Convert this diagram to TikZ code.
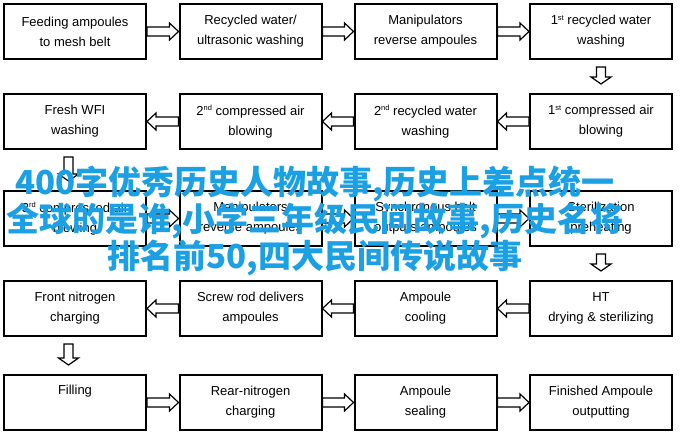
\documentclass[tikz,border=0pt]{standalone}
\usepackage{fontspec}
\setmainfont{Liberation Sans}
\newfontfamily\cjk{Noto Sans CJK SC}
\usetikzlibrary{calc}
\definecolor{overlaycyan}{RGB}{27,160,228}
\tikzset{
  stepbox/.style={draw=black, line width=2pt, minimum width=142pt, minimum height=55pt,
    inner sep=0pt, align=center, font=\fontsize{13}{20}\selectfont},
  blk/.style={draw=black, line width=1.2pt, fill=white, line join=miter},
  cjktext/.style={text=overlaycyan, align=center, inner sep=0pt,
    font=\cjk\bfseries\fontsize{33}{34}\selectfont}
}
\newcommand\ordsup[1]{\raisebox{4.5pt}{\fontsize{7.5}{7.5}\selectfont #1}}
% right arrow from #1 to #2
\newcommand\rarr[2]{\draw[blk] let \p1=(#1.east), \p2=(#2.west) in
  (\x1,\y1+4.5pt) -- (\x2-9pt,\y1+4.5pt) -- (\x2-9pt,\y1+8.5pt) -- (\x2,\y1)
  -- (\x2-9pt,\y1-8.5pt) -- (\x2-9pt,\y1-4.5pt) -- (\x1,\y1-4.5pt) -- cycle;}
% left arrow from #1 to #2
\newcommand\larr[2]{\draw[blk] let \p1=(#1.west), \p2=(#2.east) in
  (\x1,\y1+4.5pt) -- (\x2+9pt,\y1+4.5pt) -- (\x2+9pt,\y1+8.5pt) -- (\x2,\y1)
  -- (\x2+9pt,\y1-8.5pt) -- (\x2+9pt,\y1-4.5pt) -- (\x1,\y1-4.5pt) -- cycle;}
% down arrow from #1 to #2, x offset #3
\newcommand\darr[3]{\draw[blk] let \p1=(#1.south), \p2=(#2.north) in
  (\x1+#3-4.5pt,\y1-7pt) -- (\x1+#3-4.5pt,\y2+16pt) -- (\x1+#3-10pt,\y2+16pt)
  -- (\x1+#3,\y2+9pt) -- (\x1+#3+10pt,\y2+16pt) -- (\x1+#3+4.5pt,\y2+16pt)
  -- (\x1+#3+4.5pt,\y1-7pt) -- cycle;}
\begin{document}
\begin{tikzpicture}[x=1pt,y=-1pt]
\useasboundingbox[fill=white] (0,0) rectangle (683,436);
% row 1
\node[stepbox] (a1) at (75,31.5)  {Feeding ampoules\\to mesh belt};
\node[stepbox] (a2) at (250.5,31.5) {Recycled water/\\ultrasonic washing};
\node[stepbox] (a3) at (425.5,31.5) {Manipulators\\reverse ampoules};
\node[stepbox] (a4) at (601,31.5) {1\ordsup{st} recycled water\\washing};
% row 2
\node[stepbox] (b1) at (75,121.5)  {Fresh WFI\\washing};
\node[stepbox] (b2) at (250.5,121.5) {2\ordsup{nd} compressed air\\blowing};
\node[stepbox] (b3) at (425.5,121.5) {2\ordsup{nd} recycled water\\washing};
\node[stepbox] (b4) at (601,121.5) {1\ordsup{st} compressed air\\blowing};
% row 3
\node[stepbox] (c1) at (75,218.5)  {3\ordsup{rd} compressed air\\blowing};
\node[stepbox] (c2) at (250.5,218.5) {Manipulators\\reverse ampoules};
\node[stepbox] (c3) at (425.5,218.5) {Synchronous belt\\outputs ampoules};
\node[stepbox] (c4) at (601,218.5) {Sterilization\\preheating};
% row 4
\node[stepbox] (d1) at (75,308.5)  {Front nitrogen\\charging};
\node[stepbox] (d2) at (250.5,308.5) {Screw rod delivers\\ampoules};
\node[stepbox] (d3) at (425.5,308.5) {Ampoule\\cooling};
\node[stepbox] (d4) at (601,308.5) {HT\\drying \& sterilizing};
% row 5
\node[stepbox] (e1) at (75,402.5)  {Filling\\\strut};
\node[stepbox] (e2) at (250.5,402.5) {Rear-nitrogen\\charging};
\node[stepbox] (e3) at (425.5,402.5) {Ampoule\\sealing};
\node[stepbox] (e4) at (601,402.5) {Finished Ampoule\\outputting};
% connectors
\rarr{a1}{a2} \rarr{a2}{a3} \rarr{a3}{a4}
\darr{a4}{b4}{0pt}
\larr{b4}{b3} \larr{b3}{b2} \larr{b2}{b1}
\darr{b1}{c1}{-6.5pt}
\rarr{c1}{c2} \rarr{c2}{c3} \rarr{c3}{c4}
\darr{c4}{d4}{0pt}
\larr{d4}{d3} \larr{d3}{d2} \larr{d2}{d1}
\darr{d1}{e1}{-6.5pt}
\rarr{e1}{e2} \rarr{e2}{e3} \rarr{e3}{e4}
% overlay text
\node[cjktext] (zh) at (315,221) {400字优秀历史人物故事,历史上差点统一\\全球的是谁,小学三年级民间故事,历史名将\\排名前50,四大民间传说故事};
\end{tikzpicture}
\end{document}
